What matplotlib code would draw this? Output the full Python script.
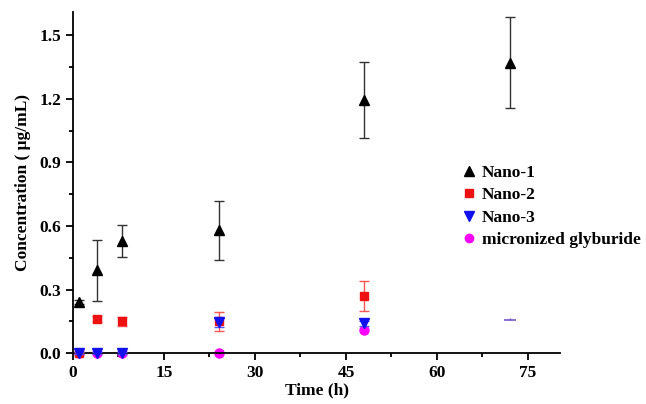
import matplotlib.pyplot as plt
from matplotlib.ticker import MultipleLocator
from matplotlib.lines import Line2D

plt.rcParams['font.family'] = ['Liberation Serif', 'DejaVu Serif']
plt.rcParams['font.weight'] = 'bold'

t = [1, 4, 8, 24, 48, 72]
nano1 = [0.24, 0.39, 0.53, 0.58, 1.195, 1.37]
nano1_err = [0.01, 0.145, 0.075, 0.14, 0.18, 0.215]
nano2 = [0.0, 0.16, 0.15, 0.15, 0.27, 0.155]
nano2_err = [0.005, 0.015, 0.022, 0.045, 0.07, 0.005]
nano3 = [0.0, 0.0, 0.0, 0.145, 0.14, 0.155]
nano3_err = [0.004, 0.004, 0.004, 0.02, 0.01, 0.012]
micro = [0.0, 0.0, 0.0, 0.0, 0.11, 0.155]

fig, ax = plt.subplots(figsize=(6.46, 4.04), dpi=100)
fig.subplots_adjust(left=0.113, right=0.867, bottom=0.126, top=0.970)

ax.errorbar(t, nano1, yerr=nano1_err, fmt='^', color='black', ms=7.5,
            ecolor='#333333', elinewidth=1, capsize=3.5, clip_on=False, zorder=3)
ax.errorbar(t[:5], nano2[:5], yerr=nano2_err[:5], fmt='s', color='#ee1111', ms=6,
            ecolor='#ff5555', elinewidth=1, capsize=3.5, clip_on=False, zorder=3)
ax.errorbar(t[:5], nano3[:5], yerr=nano3_err[:5], fmt='v', color='#1111ee', ms=7,
            ecolor='#5555ff', elinewidth=1, capsize=3.5, clip_on=False, zorder=4)
ax.plot(t[:5], micro[:5], 'o', color='#ff00ff', ms=6.5, clip_on=False, zorder=2)
# lone mark at 72 h: a short bar on a cap
ax.errorbar([t[5]], [nano3[5]], yerr=[[0], [nano3_err[5]]], fmt='none', ecolor='#7755cc',
            elinewidth=1, capsize=0)
ax.plot([t[5]], [nano3[5]], marker='_', ms=8, mew=1.2, color='#7755cc')

ax.set_xlim(0, 80.3)
ax.set_ylim(0, 1.61)
ax.xaxis.set_major_locator(MultipleLocator(15))
ax.xaxis.set_minor_locator(MultipleLocator(7.5))
ax.yaxis.set_major_locator(MultipleLocator(0.3))
ax.yaxis.set_minor_locator(MultipleLocator(0.15))
ax.yaxis.set_major_formatter(plt.FormatStrFormatter('%.1f'))
ax.tick_params(which='major', direction='out', length=5, width=1.3, labelsize=12.5)
ax.tick_params(which='minor', direction='out', length=3, width=1.3)
for s in ['top', 'right']:
    ax.spines[s].set_visible(False)
for s in ['left', 'bottom']:
    ax.spines[s].set_linewidth(1.3)

ax.set_xlabel('Time (h)', fontsize=12.5, fontweight='bold', labelpad=1)
ax.set_ylabel('Concentration ( μg/mL)', fontsize=12.5, fontweight='bold', labelpad=6)

handles = [
    Line2D([], [], marker='^', ls='none', color='black', ms=7),
    Line2D([], [], marker='s', ls='none', color='#ee1111', ms=5.5),
    Line2D([], [], marker='v', ls='none', color='#1111ee', ms=7),
    Line2D([], [], marker='o', ls='none', color='#ff00ff', ms=6),
]
labels = ['Nano-1', 'Nano-2', 'Nano-3', 'micronized glyburide']
ax.legend(handles, labels, loc='center left', bbox_to_anchor=(0.78, 0.43), frameon=False,
          fontsize=12.5, handletextpad=0.25, labelspacing=0.35, handlelength=1.0,
          borderaxespad=0)

fig.savefig('out.png', dpi=100)
